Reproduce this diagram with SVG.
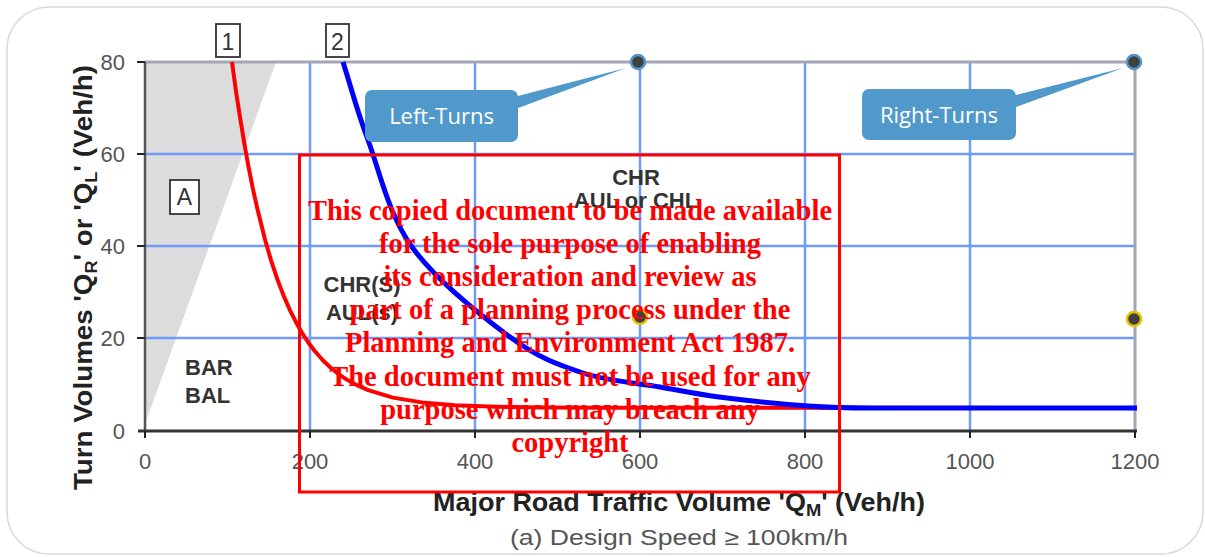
<svg xmlns="http://www.w3.org/2000/svg" width="1205" height="557" viewBox="0 0 1205 557">
<defs>
<style>
.grid{stroke:#6f9bff;stroke-width:2.5;fill:none}
.tick{stroke:#222;stroke-width:2}
.tl{font-family:"Liberation Sans",Arial,sans-serif;font-size:22px;fill:#555}
.reg{font-family:"Liberation Sans",Arial,sans-serif;font-size:22px;font-weight:bold;fill:#333;text-anchor:middle}
.ttl{font-family:"Liberation Sans",Arial,sans-serif;font-weight:bold;fill:#222}
.callout{fill:#5299cb}
.ctext{font-family:"Open Sans","Liberation Sans",sans-serif;font-size:22px;fill:#fff;text-anchor:middle}
.dot{fill:#404040;stroke:#4f96c9;stroke-width:2.5}
.ydot{fill:#404040;stroke:#e6c200;stroke-width:2.5}
.mk{fill:#fff;stroke:#333;stroke-width:1.8}
.mkt{font-family:"Liberation Sans",Arial,sans-serif;font-size:23px;fill:#333;text-anchor:middle}
.wm{font-family:"Liberation Serif","Times New Roman",serif;font-size:28.5px;font-weight:bold;fill:#ff0000;text-anchor:middle}
</style>
</defs>
<rect x="0" y="0" width="1205" height="557" fill="#fff"/>
<rect x="7" y="7" width="1196" height="547" rx="42" fill="#fff" stroke="#d9d9d9" stroke-width="1.5"/>

<g id="shade">
<polygon points="145,62 276,62 145,424" fill="#dcdcdc"/>
</g>

<g id="grid">
<line class="grid" x1="310" y1="62" x2="310" y2="431"/>
<line class="grid" x1="475" y1="62" x2="475" y2="431"/>
<line class="grid" x1="640" y1="62" x2="640" y2="431"/>
<line class="grid" x1="805" y1="62" x2="805" y2="431"/>
<line class="grid" x1="970" y1="62" x2="970" y2="431"/>
<line class="grid" x1="145" y1="154" x2="1135" y2="154"/>
<line class="grid" x1="145" y1="246" x2="1135" y2="246"/>
<line class="grid" x1="145" y1="338" x2="1135" y2="338"/>
<line x1="145" y1="62" x2="1135" y2="62" stroke="#a3a6b4" stroke-width="3"/>
<line x1="1135" y1="62" x2="1135" y2="431" stroke="#a3a6b4" stroke-width="3"/>
</g>

<g id="axes">
<line x1="145" y1="62" x2="145" y2="432" stroke="#555" stroke-width="2.5"/>
<line x1="138" y1="431" x2="1137" y2="431" stroke="#333" stroke-width="3"/>
<line class="tick" x1="137" y1="62" x2="145" y2="62"/>
<line class="tick" x1="137" y1="154" x2="145" y2="154"/>
<line class="tick" x1="137" y1="246" x2="145" y2="246"/>
<line class="tick" x1="137" y1="338" x2="145" y2="338"/>
<line class="tick" x1="145" y1="431" x2="145" y2="438"/>
<line class="tick" x1="310" y1="431" x2="310" y2="438"/>
<line class="tick" x1="475" y1="431" x2="475" y2="438"/>
<line class="tick" x1="640" y1="431" x2="640" y2="438"/>
<line class="tick" x1="805" y1="431" x2="805" y2="438"/>
<line class="tick" x1="970" y1="431" x2="970" y2="438"/>
<line class="tick" x1="1135" y1="431" x2="1135" y2="438"/>
<text class="tl" x="125" y="70" text-anchor="end">80</text>
<text class="tl" x="125" y="162" text-anchor="end">60</text>
<text class="tl" x="125" y="254" text-anchor="end">40</text>
<text class="tl" x="125" y="346" text-anchor="end">20</text>
<text class="tl" x="125" y="439" text-anchor="end">0</text>
<text class="tl" x="145" y="469" text-anchor="middle">0</text>
<text class="tl" x="310" y="469" text-anchor="middle">200</text>
<text class="tl" x="475" y="469" text-anchor="middle">400</text>
<text class="tl" x="640" y="469" text-anchor="middle">600</text>
<text class="tl" x="805" y="469" text-anchor="middle">800</text>
<text class="tl" x="970" y="469" text-anchor="middle">1000</text>
<text class="tl" x="1135" y="469" text-anchor="middle">1200</text>
<text class="ttl" x="433" y="511" font-size="25" textLength="492" lengthAdjust="spacingAndGlyphs">Major Road Traffic Volume 'Q<tspan font-size="17" dy="5">M</tspan><tspan dy="-5">' (Veh/h)</tspan></text>
<text class="tl" x="510" y="545" font-size="23" textLength="338" lengthAdjust="spacingAndGlyphs">(a) Design Speed ≥ 100km/h</text>
<text class="ttl" transform="translate(92,277.5) rotate(-90)" x="0" y="0" font-size="26" text-anchor="middle" textLength="425" lengthAdjust="spacingAndGlyphs">Turn Volumes 'Q<tspan font-size="17" dy="5">R</tspan><tspan dy="-5">' or 'Q</tspan><tspan font-size="17" dy="5">L</tspan><tspan dy="-5">' (Veh/h)</tspan></text>
</g>

<g id="connectors">
<polyline id="curve1" fill="none" stroke="#ff0000" stroke-width="4" stroke-linejoin="round" points="232,62 236.1,92 240.3,119 244.4,143.8 248.5,166.6 252.6,187.4 256.8,206.4 265,239.5 271.2,260.8 277.4,279.4 283.6,295.6 289.8,309.8 296,322.2 302.1,333 308.3,342.5 314.5,350.7 322.8,360.2 331,368 339.3,374.6 347.5,380.1 357.5,385.5 368.2,390.2 392.9,397.6 421.8,402.4 454.8,405.3 496,406.8 545.5,407.6 603.3,407.8 1135,408"/>
<path id="curve2" fill="none" stroke="#0000ff" stroke-width="5" stroke-linejoin="round" d="M343,62 C351.3,88 356.5,109.2 368,140 C379.5,170.8 388.3,214.2 412,247 C435.7,279.8 481.5,316 510,337 C538.5,358 558,364.7 583,373 C608,381.3 637.3,383 660,387 C682.7,391 694.3,393.8 719,397 C743.7,400.2 782.8,404.2 808,406 C833.2,407.8 852,408 870,408 L1137,408"/>
</g>

<g id="regionA">
<rect class="mk" x="170" y="180" width="29" height="34"/>
<text class="mkt" x="184.5" y="205" font-size="22">A</text>
</g>
<g id="regionBAR">
<text class="reg" x="185" y="375" style="text-anchor:start">BAR</text>
<text class="reg" x="185" y="403" style="text-anchor:start">BAL</text>
</g>
<g id="regionCHRS">
<text class="reg" x="362" y="292">CHR(S)</text>
<text class="reg" x="362" y="320">AUL(s)</text>
</g>
<g id="regionCHR">
<text class="reg" x="636" y="185">CHR</text>
<text class="reg" x="636" y="208">AUL or CHL</text>
</g>

<g id="marker1">
<rect class="mk" x="216" y="24" width="24" height="33"/>
<text class="mkt" x="228" y="50">1</text>
</g>
<g id="marker2">
<rect class="mk" x="326" y="24" width="23" height="33"/>
<text class="mkt" x="337.5" y="50">2</text>
</g>

<g id="points">
<circle class="ydot" cx="640" cy="317" r="7"/>
<circle class="ydot" cx="1134" cy="319" r="7"/>
</g>

<g id="leftTurns">
<polygon class="callout" points="510,98 626,68 510,111"/>
<rect class="callout" x="365" y="90" width="153" height="52" rx="7"/>
<text class="ctext" x="441.5" y="124">Left-Turns</text>
<circle class="dot" cx="638" cy="62" r="7"/>
</g>
<g id="rightTurns">
<polygon class="callout" points="1008,97 1123,68 1008,110"/>
<rect class="callout" x="862" y="89" width="154" height="51" rx="7"/>
<text class="ctext" x="939" y="123">Right-Turns</text>
<circle class="dot" cx="1134" cy="62" r="7"/>
</g>

<g id="watermark">
<rect x="299.5" y="155" width="540" height="337" fill="none" stroke="#ff0000" stroke-width="3"/>
<text class="wm" x="570" y="220">This copied document to be made available</text>
<text class="wm" x="570" y="253">for the sole purpose of enabling</text>
<text class="wm" x="570" y="286">its consideration and review as</text>
<text class="wm" x="570" y="319">part of a planning process under the</text>
<text class="wm" x="570" y="352">Planning and Environment Act 1987.</text>
<text class="wm" x="570" y="386">The document must not be used for any</text>
<text class="wm" x="570" y="419">purpose which may breach any</text>
<text class="wm" x="570" y="452">copyright</text>
</g>
</svg>
